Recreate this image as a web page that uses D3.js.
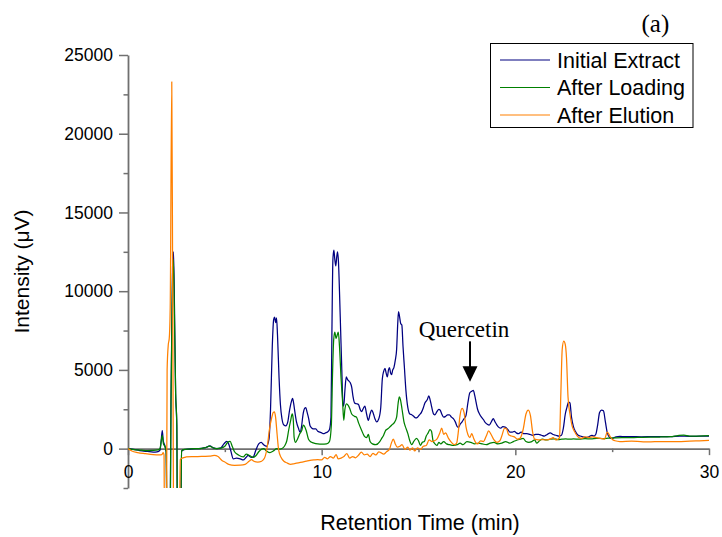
<!DOCTYPE html>
<html><head><meta charset="utf-8">
<script src="https://cdn.jsdelivr.net/npm/d3@7"></script>
<style>body{margin:0;background:#fff}svg{display:block}</style>
</head><body><svg id="chart" width="722" height="537"></svg>
<script>
// ---- data ----
const seriesNames = ["Initial Extract", "After Loading", "After Elution"];
const seriesColors = ["#000080", "#008000", "#ff8000"];
const xMajorTicks = [0, 10, 20, 30];
const xMinorTicks = [5, 15, 25];
const yMajorTicks = [0, 5000, 10000, 15000, 20000, 25000];
const yMinorTicks = [-2500, 2500, 7500, 12500, 17500, 22500];
const annotation = {label: "Quercetin", time: 17.66, from: 6750, to: 4250};

const initialExtract = [[0,0],[0.3,-50],[0.6,-120],[1.0,-180],[1.3,-220],[1.5,-200],[1.65,-100],[1.72,600],[1.77,1150],[1.82,500],[1.9,200],[1.97,-200],[2.04,-10000],[2.14,-10000],[2.22,3000],[2.3,11500],[2.35,12500],[2.4,9000],[2.46,3500],[2.52,1500],[2.57,-10000],[2.68,-10000],[2.77,-150],[2.9,-60],[3.2,-30],[3.5,0],[3.8,20],[4.0,60],[4.23,170],[4.4,50],[4.6,0],[4.8,50],[4.95,300],[5.1,460],[5.18,350],[5.3,-100],[5.44,-650],[5.6,-600],[5.8,-650],[5.95,-720],[6.1,-550],[6.2,-430],[6.35,-550],[6.47,-520],[6.6,-100],[6.75,300],[6.88,400],[7.0,250],[7.15,150],[7.28,600],[7.36,2500],[7.45,6500],[7.52,8200],[7.57,8350],[7.62,8000],[7.67,8300],[7.72,7200],[7.8,4500],[7.87,2800],[7.95,1900],[8.05,1500],[8.15,1450],[8.25,1700],[8.35,2500],[8.45,3050],[8.5,3200],[8.55,2900],[8.62,2300],[8.7,1700],[8.8,1300],[8.88,1050],[8.96,1400],[9.03,2100],[9.12,2550],[9.18,2600],[9.25,2300],[9.33,1900],[9.4,1450],[9.5,1300],[9.6,1250],[9.7,1250],[9.8,1100],[9.9,1050],[10.0,1000],[10.1,950],[10.2,1000],[10.3,1050],[10.4,1200],[10.48,2000],[10.53,7500],[10.58,12000],[10.63,12600],[10.68,12000],[10.73,11600],[10.78,12200],[10.82,12500],[10.87,11800],[10.92,10000],[10.98,7500],[11.04,5000],[11.1,2800],[11.14,2700],[11.2,3700],[11.27,4550],[11.33,4400],[11.4,4300],[11.47,4200],[11.55,3900],[11.62,3300],[11.7,2900],[11.8,2850],[11.9,2800],[12.0,2450],[12.06,2350],[12.15,2550],[12.23,2700],[12.32,2200],[12.41,1800],[12.5,2200],[12.58,2450],[12.65,2300],[12.75,1900],[12.84,1700],[12.95,1900],[13.05,2600],[13.13,4400],[13.2,4900],[13.27,5100],[13.33,4800],[13.39,4550],[13.45,5000],[13.5,5150],[13.56,4800],[13.61,4700],[13.67,5000],[13.73,5150],[13.8,5600],[13.87,6300],[13.93,8000],[13.97,8700],[14.02,8400],[14.08,7950],[14.14,7850],[14.2,6500],[14.27,5200],[14.35,3700],[14.45,2600],[14.55,2200],[14.65,2150],[14.75,2050],[14.85,1950],[14.95,2000],[15.05,2150],[15.15,2300],[15.25,2600],[15.33,2900],[15.45,3100],[15.53,3350],[15.6,3100],[15.68,2650],[15.78,2200],[15.85,2150],[15.95,2350],[16.05,2500],[16.12,2450],[16.2,2200],[16.3,2000],[16.4,2050],[16.5,2150],[16.6,2150],[16.7,2000],[16.8,1900],[16.9,1700],[17.0,1400],[17.07,1350],[17.15,1550],[17.25,1700],[17.35,1900],[17.45,2100],[17.55,2900],[17.65,3550],[17.75,3650],[17.83,3700],[17.9,3400],[17.98,2900],[18.05,2500],[18.15,2200],[18.25,2000],[18.35,1850],[18.45,1650],[18.55,1550],[18.65,1500],[18.78,1750],[18.86,1900],[18.95,1700],[19.05,1500],[19.15,1350],[19.25,1300],[19.35,1400],[19.5,1350],[19.62,1200],[19.72,1050],[19.85,1050],[19.95,1100],[20.05,1000],[20.15,950],[20.3,1050],[20.45,950],[20.6,950],[20.75,900],[20.9,850],[21.05,900],[21.2,900],[21.35,850],[21.5,800],[21.65,900],[21.8,1000],[21.95,900],[22.1,850],[22.25,800],[22.38,850],[22.48,1300],[22.58,2200],[22.66,2600],[22.75,2950],[22.82,2900],[22.9,2000],[23.0,1400],[23.1,1100],[23.2,900],[23.35,800],[23.5,750],[23.65,700],[23.8,750],[23.95,850],[24.05,800],[24.15,900],[24.25,1500],[24.35,2300],[24.45,2450],[24.55,2400],[24.65,1700],[24.75,1000],[24.88,700],[25.0,650],[25.2,750],[25.4,780],[25.7,760],[26.0,760],[26.5,750],[27.0,760],[27.5,770],[28.0,760],[28.5,800],[29.0,780],[29.5,790],[30.0,800]];

const afterLoading = [[0,0],[0.3,-60],[0.7,-100],[1.0,-120],[1.3,-110],[1.55,-80],[1.65,0],[1.72,500],[1.77,850],[1.83,300],[1.9,150],[1.97,-200],[2.04,-10000],[2.14,-10000],[2.22,3000],[2.3,11000],[2.34,12000],[2.39,9000],[2.46,3500],[2.52,1500],[2.57,-10000],[2.68,-10000],[2.77,-150],[2.9,-50],[3.2,-20],[3.5,0],[3.8,20],[4.0,60],[4.2,160],[4.35,80],[4.55,0],[4.8,30],[5.0,150],[5.15,400],[5.27,460],[5.38,150],[5.5,-200],[5.7,-400],[5.95,-530],[6.1,-350],[6.3,-450],[6.45,-550],[6.6,-450],[6.75,-200],[6.9,-30],[7.0,0],[7.15,-150],[7.33,-250],[7.5,-150],[7.68,0],[7.85,-30],[8.0,50],[8.1,200],[8.2,500],[8.3,1200],[8.4,1800],[8.48,2200],[8.53,1900],[8.58,700],[8.65,400],[8.75,600],[8.85,900],[8.97,1150],[9.05,1500],[9.1,1450],[9.2,1150],[9.32,600],[9.48,400],[9.6,350],[9.8,300],[10.0,280],[10.25,300],[10.4,450],[10.5,1500],[10.56,4700],[10.62,6900],[10.68,7400],[10.74,7000],[10.8,7200],[10.86,7400],[10.92,6500],[11.0,4500],[11.08,3000],[11.14,1800],[11.2,2500],[11.28,2850],[11.37,2750],[11.45,2550],[11.55,2200],[11.7,2050],[11.8,2000],[11.9,1650],[12.05,1200],[12.2,800],[12.32,700],[12.41,900],[12.5,450],[12.62,300],[12.8,250],[13.0,450],[13.1,650],[13.2,850],[13.3,1150],[13.4,1250],[13.5,1350],[13.62,1500],[13.75,1650],[13.87,2000],[13.95,2900],[14.01,3280],[14.07,3100],[14.15,2500],[14.25,1700],[14.35,1300],[14.45,950],[14.55,500],[14.65,250],[14.75,450],[14.9,650],[15.0,500],[15.1,200],[15.2,400],[15.3,450],[15.4,800],[15.5,1000],[15.59,1200],[15.67,1100],[15.75,500],[15.85,300],[15.95,200],[16.05,400],[16.15,300],[16.3,450],[16.45,300],[16.6,250],[16.8,200],[17.0,250],[17.15,350],[17.3,250],[17.5,450],[17.7,400],[17.9,300],[18.1,350],[18.3,300],[18.5,250],[18.7,350],[18.9,400],[19.1,300],[19.3,350],[19.5,450],[19.7,350],[19.9,450],[20.1,550],[20.25,600],[20.4,650],[20.55,450],[20.7,400],[20.85,450],[21.0,550],[21.1,350],[21.25,500],[21.4,600],[21.6,550],[21.8,600],[22.0,620],[22.2,580],[22.4,600],[22.6,620],[22.8,600],[23.0,620],[23.3,600],[23.6,630],[23.9,620],[24.2,650],[24.5,640],[24.8,660],[25.1,680],[25.5,700],[26.0,700],[26.5,720],[27.0,730],[27.5,740],[28.0,760],[28.4,830],[28.7,860],[29.0,800],[29.5,800],[30.0,820]];

const afterElution = [[0,0],[0.2,-150],[0.5,-250],[0.9,-320],[1.3,-380],[1.6,-400],[1.75,-380],[1.82,-250],[1.86,-400],[1.9,-10000],[1.97,-10000],[2.02,5000],[2.08,6600],[2.13,7000],[2.18,9000],[2.26,23300],[2.31,9000],[2.38,-10000],[2.62,-10000],[2.7,-700],[2.8,-600],[3.0,-530],[3.3,-500],[3.6,-500],[3.9,-490],[4.2,-480],[4.45,-430],[4.65,-500],[4.85,-750],[5.0,-850],[5.2,-1000],[5.5,-1060],[5.8,-1050],[6.05,-1000],[6.25,-800],[6.38,-700],[6.5,-800],[6.7,-850],[6.9,-800],[7.05,-600],[7.2,200],[7.3,1200],[7.41,1900],[7.5,2300],[7.56,2330],[7.62,2000],[7.7,900],[7.78,-100],[7.9,-550],[8.05,-800],[8.2,-900],[8.4,-1000],[8.6,-950],[8.8,-900],[9.0,-850],[9.2,-800],[9.4,-750],[9.6,-720],[9.8,-700],[10.0,-720],[10.15,-550],[10.3,-650],[10.45,-500],[10.6,-600],[10.75,-380],[10.85,-650],[11.0,-600],[11.15,-500],[11.3,-320],[11.45,-600],[11.6,-500],[11.75,-580],[11.9,-420],[12.05,-220],[12.2,-400],[12.35,-350],[12.5,-500],[12.65,-300],[12.8,-400],[12.95,-200],[13.05,-250],[13.2,-350],[13.35,-200],[13.5,-50],[13.6,350],[13.7,600],[13.8,300],[13.9,100],[14.04,150],[14.15,250],[14.3,-50],[14.45,100],[14.55,-100],[14.7,50],[14.8,-150],[14.95,50],[15.1,-50],[15.25,150],[15.4,200],[15.55,550],[15.7,450],[15.82,500],[15.95,600],[16.1,1000],[16.2,1300],[16.3,900],[16.4,1000],[16.55,650],[16.7,400],[16.85,250],[16.97,350],[17.05,1000],[17.14,2060],[17.25,2550],[17.35,2300],[17.45,1400],[17.55,900],[17.65,700],[17.75,950],[17.85,650],[17.95,400],[18.05,300],[18.2,500],[18.35,450],[18.5,800],[18.62,1130],[18.75,900],[18.9,550],[19.05,400],[19.2,500],[19.3,800],[19.45,1300],[19.55,1250],[19.65,900],[19.8,800],[19.95,750],[20.1,600],[20.24,650],[20.4,1200],[20.55,2200],[20.67,2450],[20.78,2100],[20.9,1000],[21.0,600],[21.2,550],[21.4,580],[21.6,550],[21.8,600],[21.95,700],[22.1,550],[22.2,600],[22.28,700],[22.35,3500],[22.42,6300],[22.5,6830],[22.58,6600],[22.64,5800],[22.72,3300],[22.82,2200],[22.92,1500],[23.05,1100],[23.2,800],[23.4,650],[23.6,750],[23.8,700],[24.0,750],[24.2,700],[24.4,650],[24.6,600],[24.75,1050],[24.88,800],[25.0,600],[25.15,500],[25.4,450],[26.0,480],[26.6,430],[27.2,440],[27.8,450],[28.4,450],[29.0,480],[29.5,500],[30.0,520]];

const seriesData = [initialExtract, afterLoading, afterElution];

// ---- drawing ----
const svg = d3.select("#chart");
const x = d3.scaleLinear().domain([0, 30]).range([128, 709]);
const y = d3.scaleLinear().domain([-2500, 25000]).range([488, 55]);
const axisColor = "#707070";
const sans = "'Liberation Sans', Arial, sans-serif";
const serif = "'Liberation Serif', 'Times New Roman', serif";

svg.append("defs").append("clipPath").attr("id", "plotClip")
  .append("rect").attr("x", x(0)).attr("y", 0).attr("width", x(30) - x(0)).attr("height", y(-2500));

// y axis
const yAxisG = svg.append("g").attr("transform", `translate(${x(0)},0)`)
  .call(d3.axisLeft(y).tickValues(yMajorTicks).tickSize(9).tickSizeOuter(0).tickPadding(6).tickFormat(d3.format("d")));
svg.append("g").attr("transform", `translate(${x(0)},0)`)
  .call(d3.axisLeft(y).tickValues(yMinorTicks).tickSize(4.5).tickSizeOuter(0).tickFormat(""))
  .call(g => g.select(".domain").remove());

// x axis
const xAxisG = svg.append("g").attr("transform", `translate(0,${y(0)})`)
  .call(d3.axisBottom(x).tickValues(xMajorTicks).tickSize(6.5).tickSizeOuter(0).tickPadding(10).tickFormat(d3.format("d")));
svg.append("g").attr("transform", `translate(0,${y(0)})`)
  .call(d3.axisBottom(x).tickValues(xMinorTicks).tickSize(3.5).tickSizeOuter(0).tickFormat(""))
  .call(g => g.select(".domain").remove());

svg.selectAll(".domain").attr("stroke", axisColor).attr("stroke-width", 1.8);
svg.selectAll(".tick line").attr("stroke", axisColor).attr("stroke-width", 1.5);
svg.selectAll(".tick text").attr("font-family", sans).attr("font-size", 17.5).attr("fill", "#000");

// series
const line = d3.line().x(d => x(d[0])).y(d => y(d[1])).curve(d3.curveMonotoneX);
const plot = svg.append("g").attr("clip-path", "url(#plotClip)");
seriesData.forEach((data, i) => {
  plot.append("path").datum(data).attr("d", line)
    .attr("fill", "none").attr("stroke", seriesColors[i]).attr("stroke-width", 1.25)
    .attr("stroke-linejoin", "round");
});

// axis titles
svg.append("text").attr("transform", `translate(28.5,${(y(25000) + y(-2500)) / 2}) rotate(-90)`)
  .attr("text-anchor", "middle").attr("font-family", sans).attr("font-size", 21).text("Intensity (\u03bcV)");
svg.append("text").attr("x", (x(0) + x(30)) / 2 + 1.5).attr("y", 530)
  .attr("text-anchor", "middle").attr("font-family", sans).attr("font-size", 21.5).text("Retention Time (min)");

// panel label
svg.append("text").attr("x", 641.5).attr("y", 31.5).attr("font-family", serif).attr("font-size", 25).text("(a)");

// legend
const lg = svg.append("g");
lg.append("rect").attr("x", 490.5).attr("y", 43.5).attr("width", 202.5).attr("height", 84)
  .attr("fill", "#fff").attr("stroke", "#000").attr("stroke-width", 1);
seriesNames.forEach((name, i) => {
  const ly = 60 + i * 27.5;
  lg.append("line").attr("x1", 500).attr("x2", 550).attr("y1", ly).attr("y2", ly)
    .attr("stroke", seriesColors[i]).attr("stroke-width", 1.2);
  lg.append("text").attr("x", 557).attr("y", ly + 7.8).attr("font-family", sans).attr("font-size", 21.5).text(name);
});

// annotation
const ax = x(annotation.time);
svg.append("text").attr("x", ax - 6).attr("y", y(annotation.from) - 5).attr("text-anchor", "middle")
  .attr("font-family", serif).attr("font-size", 23).text(annotation.label);
svg.append("line").attr("x1", ax).attr("x2", ax).attr("y1", y(annotation.from) - 1).attr("y2", y(annotation.to) - 14)
  .attr("stroke", "#000").attr("stroke-width", 2);
svg.append("path").attr("d", `M${ax - 7.5},${y(annotation.to) - 15.5}L${ax + 7.5},${y(annotation.to) - 15.5}L${ax},${y(annotation.to)}Z`)
  .attr("fill", "#000");
</script>
</body></html>
